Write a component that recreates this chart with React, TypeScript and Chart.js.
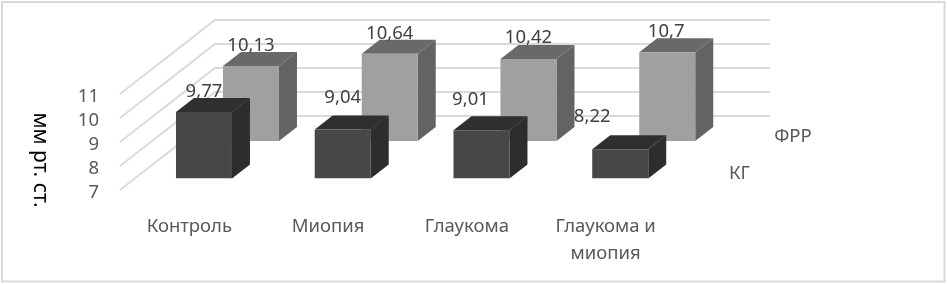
import React, { useEffect, useRef } from "react";
import { Chart, registerables } from "chart.js";

Chart.register(...registerables);

const categories = ["Контроль", "Миопия", "Глаукома", ["Глаукома и", "миопия"]];
const seriesKG = [9.77, 9.04, 9.01, 8.22];
const seriesFRR = [10.13, 10.64, 10.42, 10.7];
const seriesNames = ["КГ", "ФРР"];
const axisTitle = "мм рт. ст.";

const FONT = '"Noto Sans", sans-serif';
const GRID = "#d9d9d9";
const WALL = { dx: 95, dy: -74 };
const DEPTH = { dx: 18, dy: -14 };
const SHIFTS = [
  { dx: 14.6, dy: -11.5 },
  { dx: 61.6, dy: -49 },
];
const FACES = [
  { face: "#474747", top: "#2f2f2f", side: "#2d2d2d" },
  { face: "#a0a0a0", top: "#696969", side: "#636363" },
];
const LABEL_NUDGE = [
  [{ x: 0, y: -20 }, { x: 0, y: -32 }, { x: -11, y: -31 }, { x: -28, y: -32 }],
  [{ x: 0, y: -20 }, { x: 0, y: -20 }, { x: 0, y: -21 }, { x: -1, y: -20 }],
];
const NAME_POS = [
  { x: 739.5, y: 174 },
  { x: 793, y: 137 },
];

const poly = (ctx: CanvasRenderingContext2D, pts: number[][], fill: string) => {
  ctx.beginPath();
  pts.forEach(([x, y], i) => (i ? ctx.lineTo(x, y) : ctx.moveTo(x, y)));
  ctx.closePath();
  ctx.fillStyle = fill;
  ctx.fill();
};

const frame3d = {
  id: "frame3d",
  beforeDraw(chart: any) {
    const { ctx, width, height } = chart;
    ctx.save();
    ctx.fillStyle = "#fff";
    ctx.fillRect(0, 0, width, height);
    ctx.strokeStyle = GRID;
    ctx.lineWidth = 2;
    ctx.strokeRect(2, 2, 942.5, 279.5);
    const { left, right } = chart.chartArea;
    const yScale = chart.scales.y;
    ctx.lineWidth = 1.8;
    yScale.ticks.forEach((t: any) => {
      const y = yScale.getPixelForValue(t.value);
      ctx.beginPath();
      ctx.moveTo(left, y);
      ctx.lineTo(left + WALL.dx, y + WALL.dy);
      ctx.lineTo(right + WALL.dx, y + WALL.dy);
      ctx.stroke();
    });
    ctx.restore();
  },
  beforeDatasetDraw(chart: any, args: any) {
    const { ctx } = chart;
    const i = args.index;
    const s = SHIFTS[i];
    ctx.save();
    ctx.translate(s.dx, s.dy);
    const c = FACES[i];
    args.meta.data.forEach((bar: any) => {
      const { x, y, base, width } = bar.getProps(["x", "y", "base", "width"], true);
      const l = x - width / 2;
      const r = x + width / 2;
      poly(ctx, [[r, y], [r + DEPTH.dx, y + DEPTH.dy], [r + DEPTH.dx, base + DEPTH.dy], [r, base]], c.side);
      poly(ctx, [[l, y], [r, y], [r + DEPTH.dx, y + DEPTH.dy], [l + DEPTH.dx, y + DEPTH.dy]], c.top);
    });
  },
  afterDatasetDraw(chart: any) {
    chart.ctx.restore();
  },
  afterDraw(chart: any) {
    const { ctx } = chart;
    ctx.save();
    ctx.textAlign = "center";
    ctx.textBaseline = "middle";
    ctx.font = `18.5px ${FONT}`;
    ctx.fillStyle = "#404040";
    chart.data.datasets.forEach((ds: any, i: number) => {
      chart.getDatasetMeta(i).data.forEach((bar: any, j: number) => {
        const n = LABEL_NUDGE[i][j];
        const text = String(ds.data[j]).replace(".", ",");
        ctx.fillText(text, bar.x + SHIFTS[i].dx + n.x, bar.y + SHIFTS[i].dy + n.y);
      });
    });
    ctx.fillStyle = "#595959";
    seriesNames.forEach((name, i) => ctx.fillText(name, NAME_POS[i].x, NAME_POS[i].y));
    ctx.translate(40, 160);
    ctx.rotate(Math.PI / 2);
    ctx.fillStyle = "#000";
    ctx.font = `21px ${FONT}`;
    ctx.fillText(axisTitle, 0, 0);
    ctx.restore();
  },
};

export default function App() {
  const ref = useRef<HTMLCanvasElement>(null);
  useEffect(() => {
    const chart = new Chart(ref.current!, {
      type: "bar",
      data: {
        labels: categories as any,
        datasets: [
          { label: seriesNames[0], data: seriesKG, backgroundColor: FACES[0].face, base: 7 },
          { label: seriesNames[1], data: seriesFRR, backgroundColor: FACES[1].face, base: 7 },
        ],
      },
      plugins: [frame3d],
      options: {
        animation: false,
        responsive: false,
        layout: { padding: { left: 0, top: 94, right: 272, bottom: 0 } },
        plugins: { legend: { display: false }, tooltip: { enabled: false }, title: { display: false } },
        datasets: { bar: { grouped: false, barPercentage: 0.4036, categoryPercentage: 1 } },
        scales: {
          x: {
            grid: { display: false },
            border: { display: false },
            afterFit: (s: any) => { s.height = 94; },
            ticks: {
              padding: 15,
              maxRotation: 0,
              autoSkip: false,
              color: "#595959",
              font: { family: FONT, size: 18.5, lineHeight: 1.45 },
            },
          },
          y: {
            min: 7,
            max: 11,
            afterFit: (s: any) => { s.width = 120; },
            grid: { display: false },
            border: { display: false },
            ticks: {
              stepSize: 1,
              autoSkip: false,
              padding: 13,
              color: "#595959",
              font: { family: FONT, size: 18.5, lineHeight: 0.33 },
              callback: (v: any) => ["", String(v)],
            },
          },
        },
      } as any,
    });
    return () => chart.destroy();
  }, []);
  return (
    <canvas
      ref={ref}
      width={947}
      height={284}
      style={{ position: "absolute", left: 0, top: 0, display: "block" }}
    />
  );
}
